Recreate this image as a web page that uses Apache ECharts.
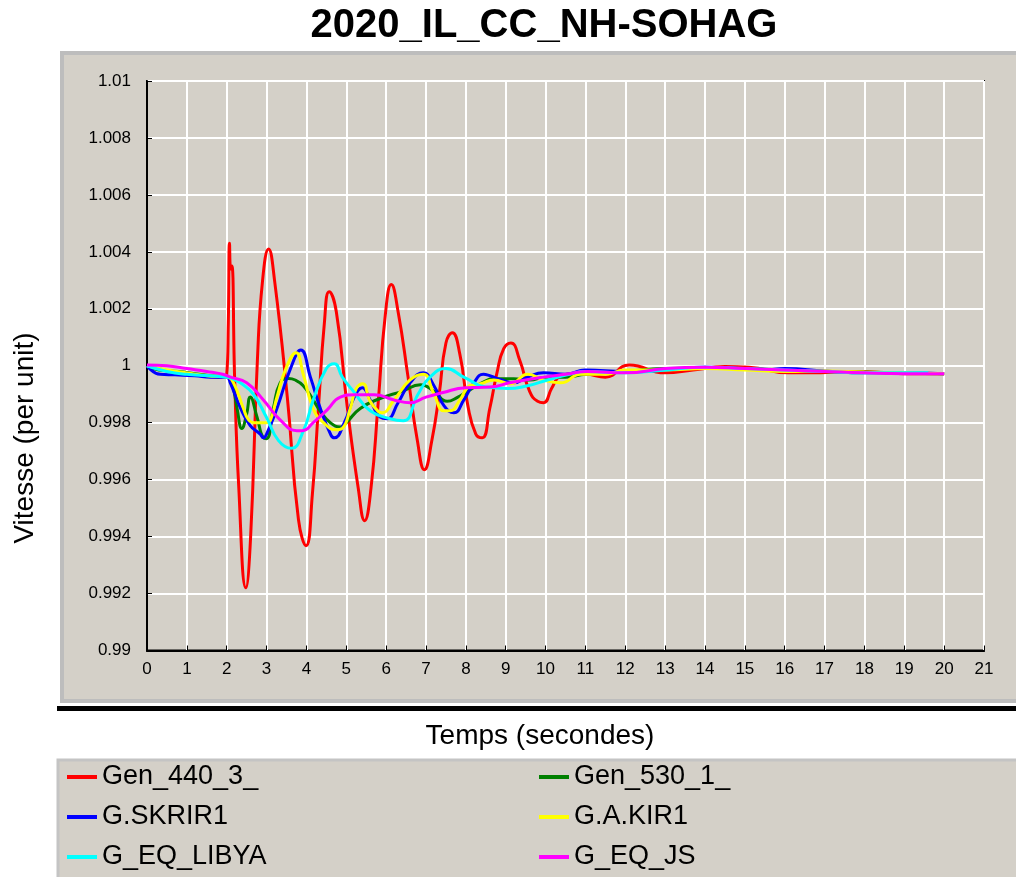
<!DOCTYPE html>
<html>
<head>
<meta charset="utf-8">
<script src="https://cdn.jsdelivr.net/npm/echarts@6/dist/echarts.min.js"></script>
<style>
html,body{margin:0;padding:0;background:#fff;}
#chart{width:1016px;height:877px;}
</style>
</head>
<body>
<div id="chart"></div>
<script>
// ---- data (time in s, speed in per unit) ----
const titleText = '2020_IL_CC_NH-SOHAG';
const xName = 'Temps (secondes)';
const yName = 'Vitesse (per unit)';
const seriesNames = ['Gen_440_3_', 'Gen_530_1_', 'G.SKRIR1', 'G.A.KIR1', 'G_EQ_LIBYA', 'G_EQ_JS'];
const seriesColors = ['#ff0000', '#008000', '#0000ff', '#ffff00', '#00ffff', '#ff00ff'];

const gen440 = [[0,1.0000],[0.6,0.9998],[1.2,0.99968],[1.8,0.9996],[2.0,0.9997],[2.04,1.0015],[2.07,1.0043],[2.1,1.0034],[2.13,1.0035],
  [2.2,0.9995],[2.3,0.9958],[2.48,0.9922],[2.6,0.9940],[2.77,1.0002],[2.9,1.0030],[3.05,1.0041],[3.2,1.0030],[3.52,0.9989],[3.8,0.9946],
  [3.99,0.99368],[4.15,0.9955],[4.3,0.9985],[4.45,1.0015],[4.57,1.0026],[4.75,1.0019],[5.02,0.9986],[5.3,0.9957],[5.46,0.99456],
  [5.62,0.9957],[5.8,0.9987],[5.98,1.0018],[6.13,1.00285],[6.3,1.0019],[6.55,0.9996],[6.78,0.9974],[6.96,0.99635],[7.15,0.9974],
  [7.33,0.9990],[7.5,1.0008],[7.66,1.00116],[7.85,1.0004],[8.05,0.9986],[8.25,0.9976],[8.41,0.99747],[8.6,0.9985],[8.78,0.99975],
  [8.95,1.0006],[9.13,1.0008],[9.35,1.0002],[9.6,0.9991],[9.8,0.99875],[9.95,0.9987],[10.15,0.9992],[10.35,0.99963],[10.55,0.9997],
  [11.0,0.9997],[11.5,0.9996],[12.1,1.00003],[13.0,0.99975],[13.7,0.99985],[14.5,0.99997],[15.1,0.99995],[16.1,0.99975],[16.6,0.99975],
  [17.8,0.9998],[19.0,0.99972],[20.0,0.99972]];

const gen530 = [[0,1.0000],[0.3,0.99985],[0.8,0.9998],[1.2,0.99972],[1.6,0.99965],[2.0,0.9996],[2.13,0.9994],[2.26,0.9985],[2.38,0.9978],
  [2.5,0.9983],[2.59,0.9989],[2.76,0.9982],[2.92,0.99747],[3.0,0.99744],[3.17,0.9985],[3.34,0.9994],[3.55,0.99955],[3.72,0.9995],
  [3.92,0.9993],[4.17,0.9988],[4.35,0.9984],[4.6,0.9980],[4.85,0.99785],[5.0,0.9980],[5.35,0.9985],[5.85,0.99885],[6.4,0.9991],
  [6.86,0.99933],[7.2,0.9991],[7.53,0.99875],[7.8,0.9989],[8.04,0.9991],[8.4,0.9994],[8.7,0.99954],[9.2,0.99954],[9.6,0.9995],
  [10.0,0.9996],[10.5,0.9996],[11.0,0.9997],[12.0,0.9998],[13.0,0.9999],[14.0,0.99992],[15.0,0.9999],[16.0,0.99985],[17.0,0.9998],
  [18.0,0.99978],[19.0,0.99974],[20.0,0.99972]];

const skrir1 = [[0,1.0000],[0.33,0.9997],[0.7,0.99968],[1.2,0.99965],[1.6,0.9996],[2.0,0.9996],[2.09,0.9994],[2.34,0.99853],[2.59,0.9979],
  [2.84,0.9976],[2.92,0.99747],[3.0,0.9976],[3.26,0.9985],[3.6,0.9999],[3.86,1.00055],[4.1,0.9996],[4.35,0.9985],[4.62,0.99755],
  [4.7,0.99747],[4.95,0.9980],[5.2,0.9989],[5.4,0.99923],[5.6,0.9988],[5.85,0.9982],[6.02,0.99814],[6.3,0.9987],[6.6,0.9994],
  [6.93,0.99975],[7.2,0.9993],[7.45,0.9986],[7.7,0.99835],[7.95,0.9988],[8.2,0.9994],[8.44,0.9997],[8.6,0.99965],[8.9,0.9995],
  [9.2,0.9994],[9.55,0.9996],[9.95,0.99975],[10.5,0.9997],[11.0,0.99985],[12.0,0.9998],[13.0,0.99985],[14.0,0.99995],[15.0,0.9999],
  [15.5,0.99985],[16.0,0.9999],[17.0,0.99982],[18.0,0.99975],[19.0,0.99975],[20.0,0.99972]];

const akir1 = [[0,1.0000],[0.5,0.99985],[1.0,0.99975],[1.5,0.99965],[2.0,0.9996],[2.17,0.9994],[2.42,0.9985],[2.55,0.9981],[2.7,0.9980],
  [3.0,0.9980],[3.1,0.9981],[3.26,0.9989],[3.5,0.99995],[3.74,1.00046],[3.92,0.9997],[4.17,0.9985],[4.43,0.9980],[4.75,0.99775],
  [4.9,0.9978],[5.1,0.9985],[5.25,0.9992],[5.42,0.99937],[5.58,0.9988],[5.8,0.9984],[5.9,0.99835],[6.2,0.9988],[6.6,0.9995],
  [6.93,0.9997],[7.2,0.9990],[7.45,0.99842],[7.6,0.99842],[7.85,0.9988],[8.1,0.9993],[8.37,0.99937],[8.7,0.9995],[9.12,0.99937],
  [9.55,0.9997],[9.95,0.9995],[10.38,0.9994],[10.88,0.9997],[11.5,0.9997],[12.0,0.99985],[13.0,0.99985],[14.0,0.9999],[15.0,0.99985],
  [16.0,0.9998],[17.0,0.99982],[18.0,0.99978],[19.0,0.99975],[20.0,0.99972]];

const eqLibya = [[0,1.0000],[0.5,0.9998],[1.0,0.9997],[1.75,0.99963],[2.0,0.9996],[2.09,0.99958],[2.34,0.9994],[2.67,0.9990],[3.0,0.99818],
  [3.3,0.99737],[3.62,0.9971],[3.92,0.9977],[4.17,0.9988],[4.5,0.9999],[4.7,1.00007],[4.9,0.9996],[5.18,0.9991],[5.6,0.99842],
  [6.1,0.99814],[6.43,0.99807],[6.8,0.9990],[7.1,0.9996],[7.5,0.9999],[7.95,0.9996],[8.5,0.99925],[9.05,0.9992],[9.55,0.9993],
  [10.05,0.9995],[10.6,0.9997],[11.0,0.9998],[12.0,0.99975],[13.0,0.99985],[14.0,0.99995],[15.0,0.9999],[16.0,0.99985],[17.0,0.9998],
  [18.0,0.99975],[19.0,0.99975],[19.6,0.99975]];

const eqJs = [[0,1.00003],[0.5,1.0000],[1.0,0.9999],[1.5,0.9998],[1.9,0.9997],[2.1,0.9996],[2.5,0.9994],[2.92,0.9988],[3.34,0.9981],
  [3.76,0.99772],[3.9,0.99772],[4.17,0.9980],[4.52,0.99845],[4.85,0.9989],[5.2,0.99898],[5.7,0.99898],[6.2,0.9988],[6.6,0.9987],
  [7.0,0.9989],[7.4,0.99905],[8.0,0.99923],[8.6,0.99925],[9.1,0.9994],[9.95,0.9996],[10.5,0.9997],[11.05,0.9998],[12.0,0.99975],
  [13.0,0.9999],[14.0,0.99995],[15.0,0.9999],[16.0,0.99985],[17.0,0.9998],[18.0,0.99975],[19.0,0.99972],[20.0,0.99972]];

const seriesData = [gen440, gen530, skrir1, akir1, eqLibya, eqJs];

// ---- chart ----
const FONT = '"Liberation Sans", Arial, sans-serif';
const PANEL = '#d4d0c8';
const chart = echarts.init(document.getElementById('chart'), null, {renderer: 'canvas'});

const option = {
  animation: false,
  backgroundColor: '#ffffff',
  title: {
    text: titleText,
    left: 539, top: 1, textAlign: 'center',
    textStyle: {fontFamily: FONT, fontSize: 40, fontWeight: 'bold', color: '#000'}
  },
  graphic: [
    {type: 'rect', z: -10, silent: true, shape: {x: 62, y: 53, width: 960, height: 648},
     style: {fill: PANEL, stroke: '#bdbdbd', lineWidth: 4}},
    {type: 'rect', z: -9, silent: true, shape: {x: 57, y: 706, width: 962, height: 5},
     style: {fill: '#000'}},
    {type: 'rect', z: -10, silent: true, shape: {x: 58, y: 760, width: 962, height: 130},
     style: {fill: PANEL, stroke: '#c4c4c4', lineWidth: 3}},
    {type: 'text', silent: true, x: 540, y: 736,
     style: {text: xName, fontFamily: FONT, fontSize: 28, fill: '#000', textAlign: 'center', textVerticalAlign: 'middle'}},
    {type: 'text', silent: true, x: 25, y: 438, rotation: Math.PI / 2,
     style: {text: yName, fontFamily: FONT, fontSize: 28, fill: '#000', textAlign: 'center', textVerticalAlign: 'middle'}}
  ],
  legend: {
    left: 67, top: 762, width: 950, padding: 0,
    orient: 'horizontal',
    icon: 'rect', itemWidth: 30, itemHeight: 4, itemGap: 10,
    textStyle: {fontFamily: FONT, fontSize: 27, color: '#000', width: 427, lineHeight: 30},
    data: seriesNames
  },
  grid: {
    left: 147, top: 81, right: 32, bottom: 226.5,
    show: true, backgroundColor: PANEL, borderColor: '#000', borderWidth: 2
  },
  xAxis: {
    type: 'value', min: 0, max: 21, interval: 1,
    axisLine: {show: true, lineStyle: {color: '#000', width: 2}},
    axisTick: {show: true, inside: true, length: 5, lineStyle: {color: '#000'}},
    axisLabel: {fontFamily: FONT, fontSize: 17, color: '#000', margin: 10},
    splitLine: {show: true, lineStyle: {color: '#ffffff', width: 2}}
  },
  yAxis: {
    type: 'value', min: 0.99, max: 1.01, interval: 0.002,
    axisLine: {show: true, lineStyle: {color: '#000', width: 2}},
    axisTick: {show: true, inside: true, length: 5, lineStyle: {color: '#000'}},
    axisLabel: {fontFamily: FONT, fontSize: 17, color: '#000', margin: 16,
      formatter: v => String(parseFloat(v.toFixed(3)))},
    splitLine: {show: true, lineStyle: {color: '#ffffff', width: 2}}
  },
  series: seriesNames.map((name, i) => ({
    name: name,
    type: 'line',
    data: seriesData[i],
    showSymbol: false,
    smooth: 0.5,
    color: seriesColors[i],
    lineStyle: {color: seriesColors[i], width: 3},
    z: 2 + i
  }))
};
chart.setOption(option);
</script>
</body>
</html>
